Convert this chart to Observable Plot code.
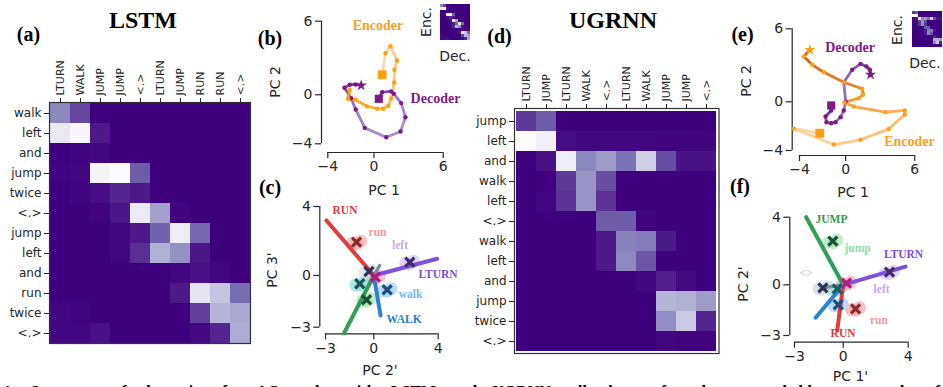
<!DOCTYPE html>
<html><head><meta charset="utf-8">
<script src="https://cdn.jsdelivr.net/npm/d3@7"></script>
<script src="https://cdn.jsdelivr.net/npm/@observablehq/plot@0.6"></script>
<style>
html,body{margin:0;padding:0;background:#fff;}
#fig{position:relative;width:943px;height:387px;overflow:hidden;background:#fff;font-family:"DejaVu Sans",sans-serif;color:#262626;}
.abs{position:absolute;}
.lbl{position:absolute;transform:translate(-50%,-50%);white-space:nowrap;font-size:14px;line-height:1;}
.rot{transform:translate(-50%,-50%) rotate(-90deg);}
.ser{font-family:"Liberation Serif","Times New Roman",serif;font-weight:bold;color:#000;}
svg{max-width:none !important;overflow:visible;}
</style></head><body><div id="fig"></div>
<script>
// ---------- data ----------
const lstmRows = ["walk","left","and","jump","twice","<.>","jump","left","and","run","twice","<.>"];
const lstmCols = ["LTURN","WALK","JUMP","JUMP","<.>","LTURN","JUMP","RUN","RUN","<.>"];
const lstmAttn = [
  [0.42,0.22,0,0,0,0,0,0,0,0],
  [0.85,0.96,0.08,0,0,0,0,0,0,0],
  [0,0.01,0.02,0,0,0,0,0,0,0],
  [0.01,0.02,0.93,1.0,0.28,0,0,0,0,0],
  [0,0.01,0.04,0.12,0.08,0,0,0,0,0],
  [0,0,0.01,0.07,0.86,0.52,0.01,0,0,0],
  [0,0,0,0.02,0.08,0.3,0.88,0.32,0,0],
  [0,0,0,0.02,0.15,0.58,0.46,0.07,0,0],
  [0,0,0,0,0,0,0.02,0.05,0.02,0],
  [0,0,0,0,0,0,0.08,0.82,0.66,0.33],
  [0.02,0.01,0,0,0,0,0,0.2,0.6,0.55],
  [0.02,0.02,0.05,0,0,0,0,0.03,0.12,0.56]
];
const ugRows = ["jump","left","and","walk","left","<.>","walk","left","and","jump","twice","<.>"];
const ugCols = ["LTURN","JUMP","LTURN","WALK","<.>","LTURN","WALK","JUMP","JUMP","<.>"];
const ugAttn = [
  [0.18,0.28,0,0,0,0,0,0,0,0],
  [1.0,0.9,0.04,0.02,0.02,0.02,0.02,0.01,0.01,0.01],
  [0,0.06,0.88,0.42,0.5,0.35,0.7,0.24,0.06,0.06],
  [0,0,0.18,0.48,0.24,0,0,0,0,0],
  [0,0.02,0.16,0.48,0.16,0,0,0,0,0],
  [0,0,0,0,0.28,0.28,0.01,0,0,0],
  [0,0,0,0,0.08,0.4,0.38,0.08,0,0],
  [0,0,0,0,0.08,0.43,0.26,0,0,0],
  [0,0,0,0,0,0,0.02,0.1,0.03,0],
  [0,0,0,0,0,0,0,0.6,0.58,0.5],
  [0,0,0,0,0,0,0,0.45,0.68,0.12],
  [0,0,0,0,0,0,0,0.02,0.01,0.01]
];
// (b) LSTM PC trajectories [PC1, PC2]; first = start (square), last = end (star)
const lstmEncoder = [[0.71,1.63],[1.0,3.4],[1.43,3.96],[2.0,2.8],[1.78,2.04],[1.75,1.0],[1.5,-0.3],[1.25,-0.9],[0.8,-1.14],[0.28,-1.14],[-0.59,-0.95],[-1.6,-0.4],[-2.24,-0.33],[-2.1,0.4]];
const lstmDecoder = [[0.42,-0.33],[0.71,0.21],[1.49,0.27],[1.72,0.08],[2.36,-0.68],[2.73,-1.83],[2.3,-3.0],[1.06,-3.46],[-0.8,-2.7],[-1.58,-1.2],[-1.98,-0.28],[-2.56,0.57],[-2.1,0.82],[-1.6,0.84],[-1.11,0.76]];
// (e) UGRNN PC trajectories
const ugEncoder = [[-2.24,-2.58],[-4.5,-2.2],[-1.02,-3.51],[1.29,-3.12],[3.75,-2.22],[5.13,-1.04],[5.13,-0.71],[3.46,-0.85],[0.71,-0.39],[-0.1,-0.05],[1.15,0.3],[1.52,0.6],[1.44,1.07],[-0.16,1.61],[-1.89,2.43],[-2.9,3.04],[-3.62,3.72],[-3.1,4.27]];
const ugDecoder = [[-1.25,-0.3],[-1.25,-0.71],[-1.74,-1.21],[-1.66,-1.68],[-1.25,-1.76],[-0.88,-1.68],[-0.44,-1.26],[-0.16,-0.71],[0.0,0.02],[-0.16,1.61],[0.57,2.63],[1.29,3.12],[1.81,2.9],[2.1,2.63],[2.16,2.24]];
// (c) LSTM readout directions and word clusters [PC2', PC3']
const cDirNames = ["RUN","LTURN","WALK","JUMP","<>"];
const cDirEnds  = [[-2.94,3.19],[3.94,0.97],[0.42,-2.32],[-1.85,-3.35],[0.37,0.58]];
const cClusterNames = ["run","left","walk","<.>","jump","and","twice"];
const cClusterPos   = [[-1.07,1.93],[2.24,0.77],[0.83,-0.83],[-0.87,-0.48],[-0.45,-1.41],[-0.3,0.23],[0.1,-0.1]];
// (f) UGRNN readout directions and word clusters [PC1', PC2']
const fDirNames = ["JUMP","LTURN","RUN","WALK","<>"];
const fDirEnds  = [[-2.28,4.0],[3.84,1.08],[-0.37,-2.7],[-1.7,-1.95],[-1.25,-0.18]];
const fClusterNames = ["jump","left","<.>","and","twice","walk","run"];
const fClusterPos   = [[-0.64,2.58],[2.85,0.75],[-1.25,-0.18],[-0.37,-0.24],[0.2,0.1],[-0.31,-1.18],[0.76,-1.42]];
// annotation labels (data coordinates)
const bLabels = [{t:"Encoder",p:[0.35,5.65],c:"#f9a11b"},{t:"Decoder",p:[5.33,-0.3],c:"#7e1a86"}];
const eLabels = [{t:"Decoder",p:[0.38,4.49],c:"#7e1a86"},{t:"Encoder",p:[5.54,-3.24],c:"#f9a11b"}];
const cLabels = [{t:"RUN",p:[-1.79,3.77],c:"#e0393e"},{t:"run",p:[0.23,2.49],c:"#f19a9a"},{t:"left",p:[1.63,1.74],c:"#c9a8f0"},{t:"LTURN",p:[3.99,0.06],c:"#7b4fd6"},{t:"walk",p:[2.28,-1.1],c:"#74b6e6"},{t:"WALK",p:[1.88,-2.55],c:"#2a7dd1"}];
const fLabels = [{t:"JUMP",p:[-0.72,3.86],c:"#2f9a55"},{t:"jump",p:[0.88,2.15],c:"#8fdca8"},{t:"LTURN",p:[3.71,1.79],c:"#7b4fd6"},{t:"<>",p:[-2.29,0.67],c:"#c8d0e0"},{t:"left",p:[2.36,-0.28],c:"#c9a8f0"},{t:"run",p:[2.2,-2.11],c:"#f19a9a"},{t:"RUN",p:[-0.01,-2.88],c:"#e0393e"}];

// ---------- styles (not data) ----------
const dirColor = {RUN:"#e23b3b", LTURN:"#7d52d8", WALK:"#2a80d2", JUMP:"#2f9e57", "<>":"#7d8a99"};
const cHalo = {run:"#f7a7a7", left:"#d8c3f7", walk:"#a2d0f5", "<.>":"#86e0d8", jump:"#a6e4b4", and:"#d5dce6", twice:"#f2a6d6"};
const cMark = {run:"#8a2a2a", left:"#3c2d70", walk:"#1f4e7a", "<.>":"#1e4f55", jump:"#1f4f35", and:"#2b3450", twice:"#b51a78"};
const fMark = {run:"#8a2a2a", left:"#3c2d70", walk:"#1f4e7a", "<.>":"#2b3450", jump:"#1f4f35", and:"#1e5a5a", twice:"#b51a78"};
const fHalo = {run:"#f7a7a7", left:"#d8c3f7", walk:"#a2d0f5", "<.>":"#cfd8e6", jump:"#a6e4b4", and:"#86e0d8", twice:"#f2a6d6"};

const fig = document.getElementById("fig");
function place(node, left, top){ const d=document.createElement("div"); d.className="abs"; d.style.left=left+"px"; d.style.top=top+"px"; d.appendChild(node); fig.appendChild(d); }
function label(text, x, y, cls, size){ const d=document.createElement("div"); d.className="lbl "+(cls||""); d.style.left=x+"px"; d.style.top=y+"px"; if(size) d.style.fontSize=size+"px"; d.textContent=text; fig.appendChild(d); }
const baseStyle = {fontFamily:"DejaVu Sans", color:"#262626", background:"none", overflow:"visible"};
const fmt = d => d < 0 ? "\u2212" + (-d) : String(d);
function cells(m){ const out=[]; m.forEach((row,r)=>row.forEach((v,c)=>out.push({r,c,v}))); return out; }

function heatmap(rows, cols, m, o){
  return Plot.plot({
    width:o.w, height:o.h, marginLeft:o.ml, marginTop:o.mt, marginRight:o.mr, marginBottom:o.mb,
    style: baseStyle,
    x:{type:"band", domain:d3.range(cols.length), padding:0, axis: o.inset ? null : undefined},
    y:{type:"band", domain:d3.range(rows.length), padding:0, axis: o.inset ? null : undefined},
    color:{type:"linear", scheme:"purples", reverse:true, domain:[0,1]},
    marks: o.inset ? [
      Plot.cell(cells(m), {x:"c", y:"r", fill:"v", inset:0, shapeRendering:"crispEdges"})
    ] : [
      Plot.cell(cells(m), {x:"c", y:"r", fill:"v", inset:0, shapeRendering:"crispEdges"}),
      Plot.frame({stroke:"#333", strokeWidth:1.2}),
      Plot.axisX({anchor:"top", tickRotate:-90, tickFormat:i=>cols[i], tickSize:5, tickPadding:2, fontSize:11, label:null}),
      Plot.axisY({anchor:"left", tickFormat:i=>rows[i], tickSize:5, tickPadding:3, fontSize:12, label:null})
    ]
  });
}

function pcAxes(o){
  return [
    Plot.ruleX([o.xd[0]], {y1:o.yd[0], y2:o.yd[1], dx:-o.il, stroke:"#262626", strokeWidth:1.2}),
    Plot.ruleY([o.yd[0]], {x1:o.xd[0], x2:o.xd[1], dy:o.ib, stroke:"#262626", strokeWidth:1.2}),
    Plot.axisX({ticks:o.xd.concat([0]), tickFormat:fmt, tickSize:6, tickPadding:3, fontSize:14, label:null, strokeWidth:1.2}),
    Plot.axisY({ticks:o.yd.concat([0]), tickFormat:fmt, tickSize:6, tickPadding:3, fontSize:14, label:null, strokeWidth:1.2})
  ];
}
function pcPlot(o, marks){
  return Plot.plot({
    width:o.w, height:o.h, marginLeft:o.ml, marginRight:o.mr, marginTop:o.mt, marginBottom:o.mb,
    style: baseStyle,
    x:{domain:o.xd, insetLeft:o.il, insetRight:0},
    y:{domain:o.yd, insetBottom:o.ib, insetTop:0},
    color:{type:"identity"},
    marks:[...pcAxes(o), ...marks]
  });
}
function segs(pts, colors){
  const n = pts.length - 1, interp = d3.interpolateRgbBasis(colors);
  return pts.slice(1).map((p,i)=>({x1:pts[i][0], y1:pts[i][1], x2:p[0], y2:p[1], c:interp(n>1 ? i/(n-1) : 0)}));
}
function trajMarks(enc, dec, encColors, decColors, labels, encStar){
  const marks = [
    Plot.link(segs(dec, decColors), {x1:"x1", y1:"y1", x2:"x2", y2:"y2", stroke:"c", strokeWidth:2.8, strokeLinecap:"round"}),
    Plot.link(segs(enc, encColors), {x1:"x1", y1:"y1", x2:"x2", y2:"y2", stroke:"c", strokeWidth:2.8, strokeLinecap:"round"}),
    Plot.dot(dec.slice(1,-1), {x:d=>d[0], y:d=>d[1], r:2.2, fill:"#7e1a86"}),
    Plot.dot(enc.slice(1,-1), {x:d=>d[0], y:d=>d[1], r:2.2, fill:"#ffa010"}),
    Plot.dot([enc[0]], {x:d=>d[0], y:d=>d[1], symbol:"square", r:5, fill:"#ffa010"}),
    Plot.dot([dec[0]], {x:d=>d[0], y:d=>d[1], symbol:"square", r:4.6, fill:"#7e1a86"}),
    Plot.dot([dec[dec.length-1]], {x:d=>d[0], y:d=>d[1], symbol:"star", r:3.6, fill:"#7e1a86"}),
    Plot.text(labels, {x:d=>d.p[0], y:d=>d.p[1], text:"t", fill:"c", fontFamily:"Liberation Serif", fontWeight:"bold", fontSize:14})
  ];
  if (encStar) marks.push(Plot.dot([enc[enc.length-1]], {x:d=>d[0], y:d=>d[1], symbol:"star", r:3.6, fill:"#ffa010"}));
  else marks.push(Plot.dot([enc[enc.length-1]], {x:d=>d[0], y:d=>d[1], r:2.2, fill:"#ffa010"}));
  return marks;
}
function readoutMarks(dirNames, dirEnds, clNames, clPos, halo, mark, labels){
  const dirs = dirNames.map((n,i)=>({n, x:dirEnds[i][0], y:dirEnds[i][1]}));
  const cl = clNames.map((n,i)=>({n, x:clPos[i][0], y:clPos[i][1]}));
  const blob = (dx,dy,r) => Plot.dot(cl, {x:"x", y:"y", r, dx, dy, fill:d=>halo[d.n], fillOpacity:0.7});
  return [
    blob(-4,1,6.5), blob(4,-1,6.5), blob(0,2,6),
    Plot.link(dirs, {x1:0, y1:0, x2:"x", y2:"y", stroke:d=>dirColor[d.n], strokeWidth:d=>d.n==="<>"?3.2:4, strokeLinecap:"round"}),
    Plot.dot(cl, {x:"x", y:"y", symbol:"times", r:4.2, stroke:d=>mark[d.n], strokeWidth:3.2}),
    Plot.text(labels, {x:d=>d.p[0], y:d=>d.p[1], text:"t", fill:"c", fontFamily:"Liberation Serif", fontWeight:"bold", fontSize:11.5})
  ];
}

// ---------- panels ----------
place(heatmap(lstmRows, lstmCols, lstmAttn, {w:260, h:360, ml:49, mt:102, mr:10, mb:17}), 0, 0);
place(heatmap(ugRows, ugCols, ugAttn, {w:258, h:370, ml:44, mt:108, mr:9.5, mb:17}), 470, 0);

const bOpt = {w:200, h:210, ml:71, mr:7.3, mt:20.7, mb:58, il:6.3, ib:8.7, xd:[-4,6], yd:[-4,6]};
place(pcPlot(bOpt, trajMarks(lstmEncoder, lstmDecoder, ["#ffd8a6","#ffbe66","#ff9a10"], ["#7a2f90","#b6a0da","#9c86c8","#6a1f88"], bLabels, false)), 250, 0);
const eOpt = {w:223, h:210, ml:71.7, mr:28.7, mt:28.3, mb:55, il:7.3, ib:5, xd:[-4,6], yd:[-4,6]};
place(pcPlot(eOpt, trajMarks(ugEncoder, ugDecoder, ["#fdd6a2","#ffa53a","#c8600f"], ["#6d2a8c","#b09ad6","#6d2a8c"], eLabels, true)), 720, 0);

const cOpt = {w:200, h:190, ml:69.3, mr:12.3, mt:16, mb:46.7, il:5.7, ib:6.6, xd:[-3,4], yd:[-3,4]};
place(pcPlot(cOpt, readoutMarks(cDirNames, cDirEnds, cClusterNames, cClusterPos, cHalo, cMark, cLabels)), 250, 190);
const fOpt = {w:223, h:197, ml:69.3, mr:35.3, mt:26.7, mb:45.3, il:4.7, ib:6.7, xd:[-3,4], yd:[-3,4]};
place(pcPlot(fOpt, readoutMarks(fDirNames, fDirEnds, fClusterNames, fClusterPos, fHalo, fMark, fLabels)), 720, 190);

// insets
place(heatmap(lstmRows, lstmCols, lstmAttn, {w:32, h:40, ml:0, mt:0, mr:0, mb:0, inset:true}), 439, 2);
place(heatmap(ugRows, ugCols, ugAttn, {w:35, h:41, ml:0, mt:0, mr:0, mb:0, inset:true}), 909, 8);

// ---------- text ----------
label("LSTM", 143, 20, "ser", 24);
label("UGRNN", 613, 20, "ser", 24);
label("(a)", 28.5, 34, "ser", 20);
label("(b)", 270, 37.5, "ser", 20);
label("(c)", 270, 187, "ser", 20);
label("(d)", 499.5, 35.5, "ser", 20);
label("(e)", 742.5, 34, "ser", 20);
label("(f)", 740, 185.5, "ser", 20);
label("PC 2", 275, 82, "rot");
label("PC 1", 384, 190);
label("PC 3'", 272, 270, "rot");
label("PC 2'", 380, 369.5);
label("PC 2", 746, 81, "rot");
label("PC 1", 853, 191.5);
label("PC 2'", 742.5, 284, "rot");
label("PC 1'", 850.5, 376);
label("Enc.", 426, 22, "rot");
label("Dec.", 455, 56);
label("Enc.", 896.5, 30, "rot");
label("Dec.", 925, 63);
const cap = document.createElement("div");
cap.className = "abs ser";
cap.style.cssText += "left:2px;top:384px;width:938px;font-size:16px;line-height:1;white-space:nowrap;text-align:justify;text-align-last:justify;";
cap.textContent = "4: Summary of dynamics for AO tasks with LSTM and UGRNN, all shown for the same held-out example of";
fig.appendChild(cap);
</script></body></html>
